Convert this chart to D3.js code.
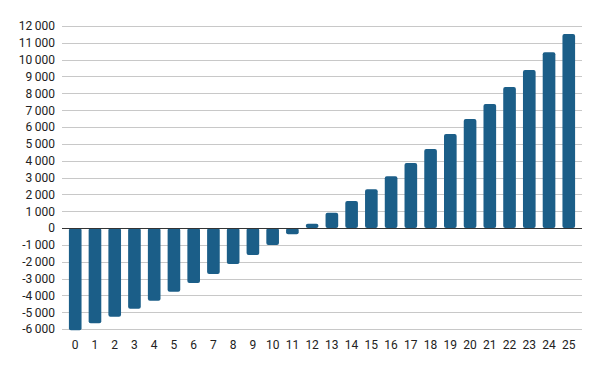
<!DOCTYPE html>
<html>
<head>
<meta charset="utf-8">
<script src="https://cdn.jsdelivr.net/npm/d3@7"></script>
<style>
  body { margin: 0; background: #fff; }
  text { font-family: Roboto, "Noto Sans", sans-serif; }
</style>
</head>
<body>
<div id="chart"></div>
<script>
// data
var categories = d3.range(0, 26).map(String);
var values = [-6080, -5660, -5270, -4790, -4320, -3780, -3270, -2730, -2140, -1600, -1010, -370,
              250, 900, 1600, 2300, 3080, 3860, 4690, 5580, 6470, 7370, 8380, 9390, 10440, 11520];
var yTicks = d3.range(-6000, 12001, 1000);

var width = 600, height = 371;
var margin = {left: 62, right: 582, top: 26, bottom: 329};

var loc = d3.formatLocale({decimal: ".", thousands: "\u2009", grouping: [3], currency: ["", ""], minus: "-"});
var fmt = loc.format(",d");

var x = d3.scaleBand()
    .domain(categories)
    .range([margin.left, margin.right])
    .paddingInner(0.36)
    .paddingOuter(0.35);

var y = d3.scaleLinear()
    .domain([-6000, 12000])
    .range([margin.bottom, margin.top]);

var svg = d3.select("#chart").append("svg")
    .attr("width", width)
    .attr("height", height);

// grid
svg.append("g")
    .selectAll("line")
    .data(yTicks)
  .enter().append("line")
    .attr("x1", margin.left)
    .attr("x2", margin.right)
    .attr("y1", function(d) { return Math.round(y(d)) + 0.5; })
    .attr("y2", function(d) { return Math.round(y(d)) + 0.5; })
    .style("stroke", "#c8c8c8")
    .style("stroke-width", 1);

// y labels
var yAxis = d3.axisLeft(y)
    .tickValues(yTicks)
    .tickFormat(fmt)
    .tickSize(0)
    .tickPadding(7);

var ya = svg.append("g")
    .attr("transform", "translate(" + margin.left + ",0)")
    .call(yAxis);
ya.select(".domain").remove();
ya.selectAll("text")
    .style("font-size", "12px")
    .style("fill", "#222");

// bars
svg.append("g")
    .selectAll("rect")
    .data(values)
  .enter().append("rect")
    .attr("x", function(d, i) { return x(categories[i]); })
    .attr("width", x.bandwidth())
    .attr("y", function(d) { return y(Math.max(0, d)); })
    .attr("height", function(d) { return Math.abs(y(d) - y(0)); })
    .attr("rx", 2)
    .style("fill", "#1b5e88");

// zero line
svg.append("line")
    .attr("x1", margin.left)
    .attr("x2", margin.right)
    .attr("y1", Math.round(y(0)) + 0.5)
    .attr("y2", Math.round(y(0)) + 0.5)
    .style("stroke", "#333")
    .style("stroke-width", 1);

// x labels
var xAxis = d3.axisBottom(x)
    .tickSize(0)
    .tickPadding(11);

var xa = svg.append("g")
    .attr("transform", "translate(0," + margin.bottom + ")")
    .call(xAxis);
xa.select(".domain").remove();
xa.selectAll("text")
    .style("font-size", "12px")
    .style("fill", "#222");
</script>
</body>
</html>
